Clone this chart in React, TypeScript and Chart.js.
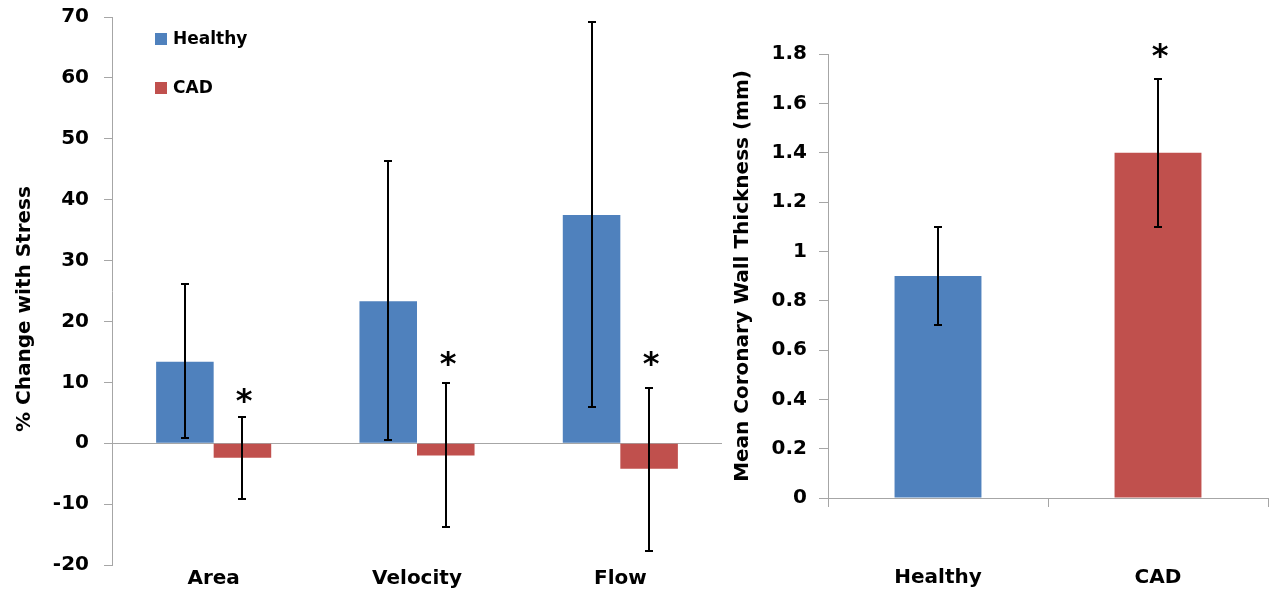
import { useEffect, useRef } from 'react';
import { Chart, registerables } from 'chart.js';

Chart.register(...registerables);

// ---------- data: left panel (% change with stress) ----------
const CATEGORIES = ['Area', 'Velocity', 'Flow'];
const SERIES_NAMES = ['Healthy', 'CAD'];
const HEALTHY_CHANGE = [13.4, 23.3, 37.5];
const HEALTHY_ERR_LOW = [0.8, 0.5, 6.0];
const HEALTHY_ERR_HIGH = [26.2, 46.4, 69.2];
const CAD_CHANGE = [-2.4, -2.0, -4.2];
const CAD_ERR_LOW = [-9.2, -13.7, -17.7];
const CAD_ERR_HIGH = [4.3, 9.9, 9.0];
const CAD_STAR_AT = [7.6, 13.7, 13.8];
const CHANGE_MIN = -20;
const CHANGE_MAX = 70;
const CHANGE_STEP = 10;

// ---------- data: right panel (wall thickness) ----------
const GROUPS = ['Healthy', 'CAD'];
const WALL_THICKNESS = [0.9, 1.4];
const WALL_ERR_LOW = [0.7, 1.1];
const WALL_ERR_HIGH = [1.1, 1.7];
const WALL_STAR_AT = [null, 1.81];
const WALL_MIN = 0;
const WALL_MAX = 1.8;
const WALL_STEP = 0.2;

const LEFT_TITLE = '% Change with Stress';
const RIGHT_TITLE = 'Mean Coronary Wall Thickness (mm)';

const BLUE = '#4F81BD';
const RED = '#C0504D';
const AXIS = '#A6A6A6';
const FONT = "'DejaVu Sans', Verdana, sans-serif";

Chart.defaults.font.family = FONT;
Chart.defaults.color = '#000';

const errorBarPlugin = {
  id: 'errorBars',
  afterDatasetsDraw(chart: any) {
    const ctx = chart.ctx;
    const yScale = chart.scales.y;
    chart.data.datasets.forEach((ds: any, i: number) => {
      const meta = chart.getDatasetMeta(i);
      meta.data.forEach((bar: any, j: number) => {
        const x = Math.round(bar.x);
        const lo = ds.errLow ? ds.errLow[j] : null;
        const hi = ds.errHigh ? ds.errHigh[j] : null;
        if (lo != null && hi != null) {
          const yLo = Math.round(yScale.getPixelForValue(lo));
          const yHi = Math.round(yScale.getPixelForValue(hi));
          ctx.save();
          ctx.strokeStyle = '#000';
          ctx.lineWidth = 2;
          ctx.beginPath();
          ctx.moveTo(x, yLo);
          ctx.lineTo(x, yHi);
          ctx.moveTo(x - 4, yLo);
          ctx.lineTo(x + 4, yLo);
          ctx.moveTo(x - 4, yHi);
          ctx.lineTo(x + 4, yHi);
          ctx.stroke();
          ctx.restore();
        }
        const star = ds.starAt ? ds.starAt[j] : null;
        if (star != null) {
          const size = 32;
          const yc = yScale.getPixelForValue(star);
          ctx.save();
          ctx.fillStyle = '#000';
          ctx.font = `bold ${size}px ${FONT}`;
          ctx.textAlign = 'center';
          ctx.textBaseline = 'alphabetic';
          ctx.fillText('*', x + 2, yc + 0.45 * size);
          ctx.restore();
        }
      });
    });
  },
};

const boxLegendPlugin = {
  id: 'boxLegend',
  afterDraw(chart: any, _args: any, opts: any) {
    if (!opts || !opts.display) return;
    const ctx = chart.ctx;
    ctx.save();
    chart.data.datasets.forEach((ds: any, i: number) => {
      const top = opts.y + i * opts.rowHeight;
      ctx.fillStyle = ds.backgroundColor;
      ctx.fillRect(opts.x, top, opts.box, opts.box);
      ctx.fillStyle = '#000';
      ctx.font = `bold ${opts.fontSize}px ${FONT}`;
      ctx.textAlign = 'left';
      ctx.textBaseline = 'middle';
      ctx.fillText(ds.label, opts.x + opts.box + opts.gap, top + opts.box / 2 + 1);
    });
    ctx.restore();
  },
};

const sideTitlePlugin = {
  id: 'sideTitle',
  afterDraw(chart: any, _args: any, opts: any) {
    if (!opts || !opts.text) return;
    const ctx = chart.ctx;
    ctx.save();
    ctx.translate(opts.x, opts.y);
    ctx.rotate(-Math.PI / 2);
    ctx.fillStyle = '#000';
    ctx.font = `bold ${opts.fontSize}px ${FONT}`;
    ctx.textAlign = 'center';
    ctx.textBaseline = 'middle';
    ctx.fillText(opts.text, 0, 0);
    ctx.restore();
  },
};

function fixYScale(width: number) {
  return (s: any) => {
    s.width = width;
    s.paddingTop = 0;
    s.paddingBottom = 0;
  };
}

function leftConfig(): any {
  return {
    type: 'bar',
    data: {
      labels: CATEGORIES,
      datasets: [
        {
          label: SERIES_NAMES[0],
          data: HEALTHY_CHANGE,
          backgroundColor: BLUE,
          errLow: HEALTHY_ERR_LOW,
          errHigh: HEALTHY_ERR_HIGH,
        },
        {
          label: SERIES_NAMES[1],
          data: CAD_CHANGE,
          backgroundColor: RED,
          errLow: CAD_ERR_LOW,
          errHigh: CAD_ERR_HIGH,
          starAt: CAD_STAR_AT,
        },
      ],
    },
    options: {
      responsive: false,
      animation: false,
      layout: { padding: { left: 0, right: 2, top: 17, bottom: 0 } },
      datasets: { bar: { categoryPercentage: 0.566, barPercentage: 1 } },
      scales: {
        x: {
          grid: { display: false },
          border: { display: false },
          ticks: {
            color: '#000',
            font: { family: FONT, size: 20, weight: 'bold' },
            padding: -6,
            maxRotation: 0,
            autoSkip: false,
          },
          afterFit: (s: any) => {
            s.height = 30;
          },
        },
        y: {
          min: CHANGE_MIN,
          max: CHANGE_MAX,
          ticks: {
            stepSize: CHANGE_STEP,
            color: '#000',
            font: { family: FONT, size: 20, weight: 'bold' },
            padding: 15,
          },
          grid: {
            color: (c: any) => (c.tick && c.tick.value === 0 ? AXIS : 'rgba(0,0,0,0)'),
            tickColor: AXIS,
            tickLength: 8,
            lineWidth: 1,
          },
          border: { color: AXIS },
          afterFit: fixYScale(112),
        },
      },
      plugins: {
        legend: { display: false },
        tooltip: { enabled: false },
        boxLegend: { display: true, x: 155, y: 33, box: 12, gap: 6, rowHeight: 49, fontSize: 17 },
        sideTitle: { text: LEFT_TITLE, x: 25, y: 309, fontSize: 20 },
      },
    },
    plugins: [errorBarPlugin, boxLegendPlugin, sideTitlePlugin],
  };
}

function rightConfig(): any {
  return {
    type: 'bar',
    data: {
      labels: GROUPS,
      datasets: [
        {
          label: 'Mean wall thickness',
          data: WALL_THICKNESS,
          backgroundColor: [BLUE, RED],
          errLow: WALL_ERR_LOW,
          errHigh: WALL_ERR_HIGH,
          starAt: WALL_STAR_AT,
        },
      ],
    },
    options: {
      responsive: false,
      animation: false,
      layout: { padding: { left: 0, right: 6, top: 54, bottom: 0 } },
      datasets: { bar: { categoryPercentage: 0.395, barPercentage: 1 } },
      scales: {
        x: {
          grid: { display: true, drawOnChartArea: false, color: AXIS, tickLength: 9, offset: true },
          border: { color: AXIS },
          ticks: {
            color: '#000',
            font: { family: FONT, size: 20, weight: 'bold' },
            padding: 59,
            maxRotation: 0,
            autoSkip: false,
          },
          afterFit: (s: any) => {
            s.height = 97;
          },
        },
        y: {
          min: WALL_MIN,
          max: WALL_MAX,
          ticks: {
            stepSize: WALL_STEP,
            color: '#000',
            font: { family: FONT, size: 20, weight: 'bold' },
            padding: 12,
            callback: (v: any) => String(Math.round(Number(v) * 10) / 10),
          },
          grid: { display: true, drawOnChartArea: false, color: AXIS, tickLength: 9 },
          border: { color: AXIS },
          title: {
            display: true,
            text: RIGHT_TITLE,
            color: '#000',
            font: { family: FONT, size: 20, weight: 'bold' },
            padding: { top: 7, bottom: 0 },
          },
          afterFit: fixYScale(104),
        },
      },
      plugins: {
        legend: { display: false },
        tooltip: { enabled: false },
      },
    },
    plugins: [errorBarPlugin],
  };
}

export default function App() {
  const leftRef = useRef<HTMLCanvasElement>(null);
  const rightRef = useRef<HTMLCanvasElement>(null);

  useEffect(() => {
    if (!leftRef.current || !rightRef.current) return;
    const left = new Chart(leftRef.current, leftConfig());
    const right = new Chart(rightRef.current, rightConfig());
    return () => {
      left.destroy();
      right.destroy();
    };
  }, []);

  return (
    <div style={{ position: 'absolute', left: 0, top: 0, width: 1274, height: 595, background: '#fff' }}>
      <canvas ref={leftRef} width={724} height={595} style={{ position: 'absolute', left: 0, top: 0 }} />
      <canvas ref={rightRef} width={550} height={595} style={{ position: 'absolute', left: 724, top: 0 }} />
    </div>
  );
}
